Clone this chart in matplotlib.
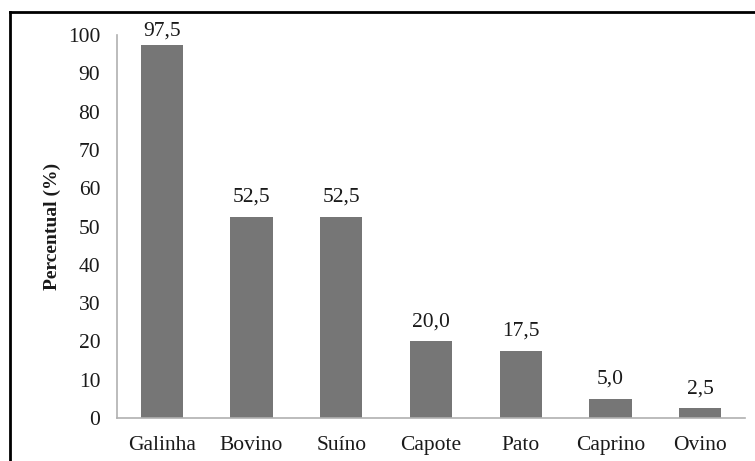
import matplotlib
matplotlib.use("Agg")
import matplotlib.pyplot as plt
from matplotlib.lines import Line2D

categories = ["Galinha", "Bovino", "Suíno", "Capote", "Pato", "Caprino", "Ovino"]
values = [97.5, 52.5, 52.5, 20.0, 17.5, 5.0, 2.5]
yticks = [0, 10, 20, 30, 40, 50, 60, 70, 80, 90, 100]

plt.rcParams['font.family'] = ['Liberation Serif', 'DejaVu Serif']

fig = plt.figure(figsize=(7.55, 4.61), dpi=100)
ax = fig.add_axes([117/755, 43/461, 628/755, 383/461])

x = list(range(len(categories)))
bars = ax.bar(x, values, width=0.47, color='#767676', zorder=2)
for xi, v in zip(x, values):
    ax.text(xi, min(v + 2.7, 98.6), f"{v:.1f}".replace('.', ','), ha='center', va='bottom',
            fontsize=15.5, color='#1a1a1a')

ax.set_xlim(-0.5, len(categories) - 0.5)
ax.set_ylim(0, 100)
ax.set_yticks(yticks)
ax.set_xticks(x)
ax.set_xticklabels(categories)
ax.tick_params(axis='both', length=0, labelsize=15.5, colors='#1a1a1a')
ax.tick_params(axis='y', pad=12)
ax.tick_params(axis='x', pad=13)
for s in ['top', 'right']:
    ax.spines[s].set_visible(False)
for s in ['left', 'bottom']:
    ax.spines[s].set_color('#b0b0b0')
    ax.spines[s].set_linewidth(1.2)
ax.set_ylabel('Percentual (%)', fontsize=14, fontweight='bold', color='#1a1a1a', labelpad=5)

# outer frame
fig.add_artist(Line2D([10/755, 10/755], [0, 1 - 12/461], transform=fig.transFigure, color='black', lw=2))
fig.add_artist(Line2D([10/755, 1], [1 - 12/461, 1 - 12/461], transform=fig.transFigure, color='black', lw=2))

fig.savefig('out.png', dpi=100)
